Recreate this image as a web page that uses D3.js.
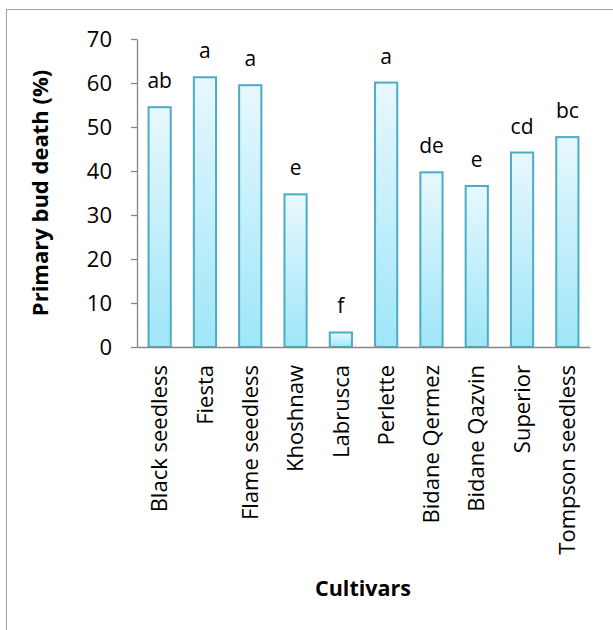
<!DOCTYPE html>
<html>
<head>
<meta charset="utf-8">
<script src="https://cdn.jsdelivr.net/npm/d3@7"></script>
<style>
  body { margin: 0; background: #fff; }
  text { font-family: "Open Sans", "Noto Sans", sans-serif; fill: #000; }
</style>
</head>
<body>
<svg id="chart" width="613" height="630"></svg>
<script>
const cultivars = ["Black seedless", "Fiesta", "Flame seedless", "Khoshnaw", "Labrusca",
  "Perlette", "Bidane Qermez", "Bidane Qazvin", "Superior", "Tompson seedless"];
const budDeath = [54.5, 61.3, 59.5, 34.7, 3.3, 60.1, 39.7, 36.6, 44.2, 47.7];
const groups = ["ab", "a", "a", "e", "f", "a", "de", "e", "cd", "bc"];
const yTicks = [0, 10, 20, 30, 40, 50, 60, 70];

const svg = d3.select("#chart");
const margin = { left: 137, right: 23, top: 39, bottom: 283 };
const width = 613, height = 630;

// outer frame
svg.append("rect")
  .attr("x", 6.5).attr("y", 9.5)
  .attr("width", 640).attr("height", 640)
  .attr("fill", "none").attr("stroke", "#a0a0a0").attr("stroke-width", 1);

const x = d3.scaleBand()
  .domain(cultivars)
  .range([margin.left, width - margin.right])
  .paddingInner(0.51).paddingOuter(0.255);

const y = d3.scaleLinear()
  .domain([0, 70])
  .range([height - margin.bottom, margin.top]);

const defs = svg.append("defs");
const grad = defs.append("linearGradient")
  .attr("id", "barGrad").attr("x1", 0).attr("y1", 0).attr("x2", 0).attr("y2", 1);
grad.append("stop").attr("offset", "0%").attr("stop-color", "#e8f8fd");
grad.append("stop").attr("offset", "100%").attr("stop-color", "#9fe6f9");

// bars
svg.append("g").selectAll("rect")
  .data(cultivars)
  .join("rect")
  .attr("x", d => x(d))
  .attr("y", (d, i) => y(budDeath[i]))
  .attr("width", x.bandwidth())
  .attr("height", (d, i) => y(0) - y(budDeath[i]))
  .attr("fill", "url(#barGrad)")
  .attr("stroke", "#4bacc6")
  .attr("stroke-width", 2);

// group letters
svg.append("g").selectAll("text")
  .data(cultivars)
  .join("text")
  .attr("x", d => x(d) + x.bandwidth() / 2)
  .attr("y", (d, i) => y(budDeath[i]) - 19)
  .attr("text-anchor", "middle")
  .style("font-size", "21px")
  .text((d, i) => groups[i]);

// y axis
const yAxis = svg.append("g")
  .attr("transform", `translate(${margin.left},0)`)
  .call(d3.axisLeft(y).tickValues(yTicks).tickSize(6).tickPadding(19).tickSizeOuter(0));
yAxis.select(".domain").attr("stroke", "#868686").attr("stroke-width", 1.3);
yAxis.selectAll(".tick line").attr("stroke", "#868686").attr("stroke-width", 1.3);
yAxis.selectAll(".tick text")
  .style("font-size", "22px").style("font-family", "'Open Sans', sans-serif").attr("fill", "#000");

// x axis
const xAxis = svg.append("g")
  .attr("transform", `translate(0,${y(0)})`)
  .call(d3.axisBottom(x).tickSize(0).tickSizeOuter(0));
xAxis.select(".domain").attr("stroke", "#868686").attr("stroke-width", 1.3);
xAxis.selectAll(".tick text")
  .attr("transform", "rotate(-90)")
  .attr("text-anchor", "end")
  .attr("x", -18).attr("y", 0).attr("dy", "0.35em")
  .style("font-size", "22px").style("font-family", "'Open Sans', sans-serif").attr("fill", "#000");

// axis titles
svg.append("text")
  .attr("transform", `translate(48,193) rotate(-90)`)
  .attr("text-anchor", "middle")
  .style("font-size", "22px").style("font-weight", "bold")
  .text("Primary bud death (%)");

svg.append("text")
  .attr("x", 363).attr("y", 596)
  .attr("text-anchor", "middle")
  .style("font-size", "21.5px").style("font-weight", "bold")
  .text("Cultivars");
</script>
</body>
</html>
